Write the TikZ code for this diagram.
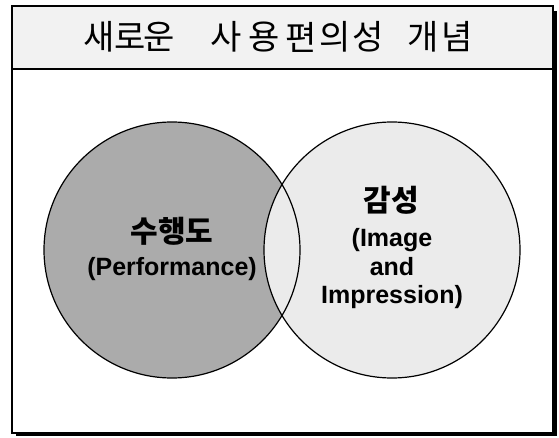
\documentclass[tikz,border=0pt]{standalone}
\usepackage{fontspec}
\setmainfont{Liberation Sans}
\newfontfamily\kr{Noto Sans CJK KR}
\begin{document}
\begin{tikzpicture}[x=1pt,y=-1pt,
  titlech/.style={font=\kr\fontsize{34}{34}\selectfont, inner sep=0pt, anchor=center},
  krlab/.style={font=\kr\bfseries\fontsize{30}{30}\selectfont, inner sep=0pt},
  enlab/.style={font=\bfseries\fontsize{25}{25}\selectfont, inner sep=0pt, anchor=base},
  circ/.style={draw=black, line width=1.2pt}]
\useasboundingbox (0,0) rectangle (559,438);
% title band
\fill[black!5] (12,6) rectangle (553,69);
% title glyphs
\foreach \ch/\x [count=\i] in {새/99,로/130,운/159,사/226,용/264,편/301,의/335,성/368,개/423,념/457}
  \node[titlech, name=t\i] at (\x,37) {\ch};
% circles fills
\fill[black!33] (172,250) circle (128);
\fill[black!8] (392,250) circle (128);
% outlines
\draw[circ] (172,250) circle (128);
\draw[circ] (392,250) circle (128);
% left texts
\node[krlab] (perfk) at (172,231) {수행도};
\node[enlab] (perfe) at (172,276) {(Performance)};
% right texts
\node[krlab] (imgk) at (391,200) {감성};
\node[enlab] (img1) at (392,247) {(Image};
\node[enlab] (img2) at (392,275) {and};
\node[enlab] (img3) at (392,303) {Impression)};
% frame
\draw[line width=1.2pt] (12,6) rectangle (553,433);
\draw[line width=2.6pt] (12,69) -- (557,69);
\draw[line width=4pt] (555,11) -- (555,436);
\draw[line width=3pt] (16,434.5) -- (557,434.5);
\end{tikzpicture}
\end{document}
